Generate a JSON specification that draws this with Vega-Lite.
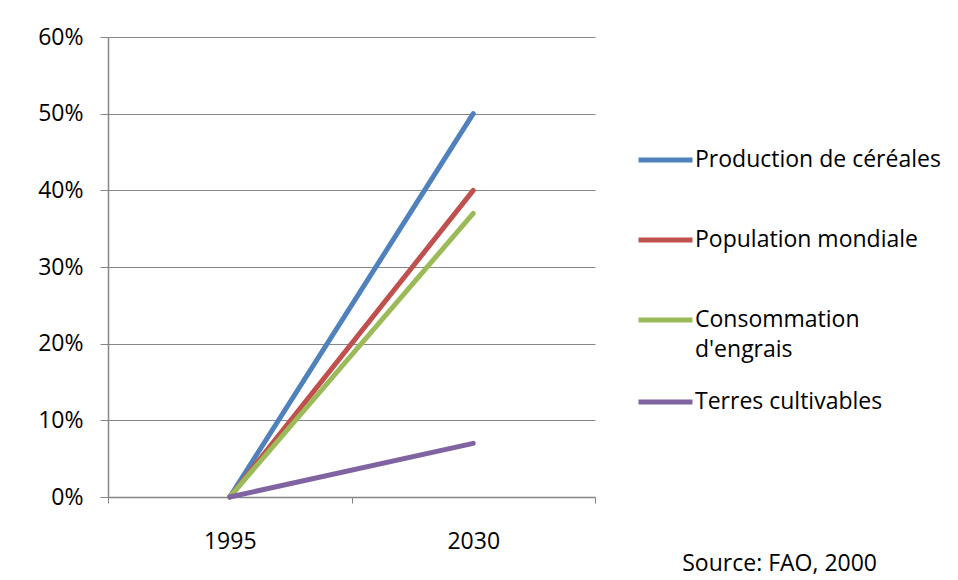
{
  "$schema": "https://vega.github.io/schema/vega-lite/v6.json",
  "width": 487,
  "height": 460,
  "autosize": {"type": "none"},
  "padding": {"left": 108, "top": 37, "right": 363, "bottom": 83},
  "background": "white",
  "config": {
    "font": "Open Sans",
    "view": {"stroke": null}
  },
  "title": {
    "text": "Source: FAO, 2000",
    "orient": "bottom",
    "anchor": "end",
    "frame": "group",
    "dx": 282,
    "offset": 0,
    "fontSize": 23,
    "fontWeight": "normal",
    "color": "black",
    "font": "Open Sans"
  },
  "data": {
    "values": [
      {"year": "1995", "series": "Production de céréales", "value": 0},
      {"year": "2030", "series": "Production de céréales", "value": 0.50},
      {"year": "1995", "series": "Population mondiale", "value": 0},
      {"year": "2030", "series": "Population mondiale", "value": 0.40},
      {"year": "1995", "series": "Consommation d'engrais", "value": 0},
      {"year": "2030", "series": "Consommation d'engrais", "value": 0.37},
      {"year": "1995", "series": "Terres cultivables", "value": 0},
      {"year": "2030", "series": "Terres cultivables", "value": 0.07}
    ]
  },
  "mark": {"type": "line", "strokeWidth": 5, "strokeCap": "round"},
  "encoding": {
    "x": {
      "field": "year",
      "type": "ordinal",
      "bandPosition": 0.5,
      "scale": {"type": "band", "paddingInner": 0, "paddingOuter": 0},
      "axis": {
        "title": null,
        "labelAngle": 0,
        "tickBand": "extent",
        "tickSize": 6,
        "tickColor": "#868686",
        "domainColor": "#868686",
        "domainWidth": 1.5,
        "labelFontSize": 23,
        "labelColor": "black",
        "labelPadding": 27,
        "grid": false
      }
    },
    "y": {
      "field": "value",
      "type": "quantitative",
      "scale": {"domain": [0, 0.6]},
      "axis": {
        "title": null,
        "values": [0, 0.1, 0.2, 0.3, 0.4, 0.5, 0.6],
        "format": ".0%",
        "tickSize": 8,
        "tickColor": "#868686",
        "domainColor": "#868686",
        "domainWidth": 1.5,
        "gridColor": "#868686",
        "gridWidth": 1,
        "gridOpacity": 1,
        "labelFontSize": 23,
        "labelColor": "black",
        "labelPadding": 17
      }
    },
    "color": {
      "field": "series",
      "type": "nominal",
      "sort": ["Production de céréales", "Population mondiale", "Consommation d'engrais", "Terres cultivables"],
      "scale": {
        "domain": ["Production de céréales", "Population mondiale", "Consommation d'engrais", "Terres cultivables"],
        "range": ["#4F81BD", "#C0504D", "#9BBB59", "#8064A2"]
      },
      "legend": {
        "title": null,
        "orient": "none",
        "legendX": 528,
        "legendY": 83,
        "symbolType": "stroke",
        "symbolSize": 2916,
        "symbolStrokeWidth": 5,
        "labelFont": "Open Sans",
        "labelFontSize": 23,
        "labelColor": "black",
        "labelLimit": 400,
        "labelOffset": 0,
        "rowPadding": 0,
        "clipHeight": 80,
        "labelExpr": "datum.label == \"Consommation d'engrais\" ? [\"Consommation\", \"d'engrais\"] : datum.label",
        "encode": {"labels": {"update": {"lineHeight": {"value": 30}}}}
      }
    }
  }
}
